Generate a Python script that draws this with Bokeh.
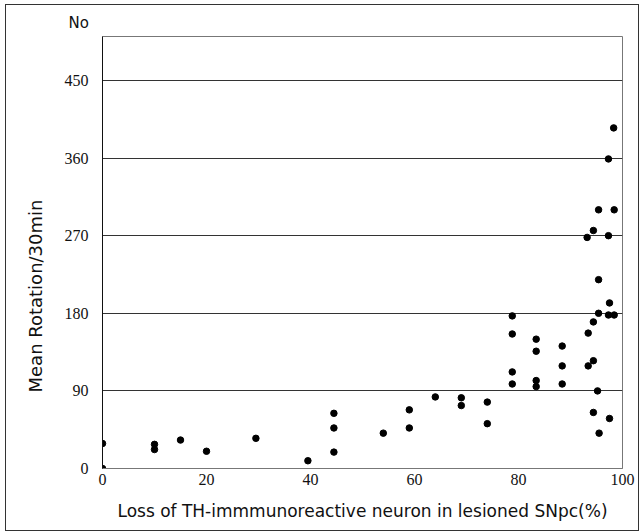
from bokeh.plotting import figure
from bokeh.models import Range1d, FixedTicker, Title
from bokeh.embed import file_html
from bokeh.resources import INLINE

# Data
loss_pct = [0, 0, 10, 10, 15, 20, 29.5, 39.5, 44.5, 44.5, 44.5, 54, 59, 59, 64,
            69, 69, 74, 74, 78.8, 78.8, 78.8, 78.8, 83.4, 83.4, 83.4, 83.4,
            88.4, 88.4, 88.4, 93.2, 94.4, 95.4, 98.4, 97.3, 98.3, 97.3, 95.4,
            97.5, 95.4, 97.3, 98.4, 94.4, 93.4, 93.4, 94.4, 95.2, 94.4, 95.5, 97.5]
rotation = [29, 0, 28, 22, 33, 20, 35, 9, 64, 47, 19, 41, 68, 47, 83,
            82, 73, 77, 52, 177, 156, 112, 98, 150, 136, 102, 95,
            142, 119, 98, 268, 276, 300, 300, 270, 395, 359, 219,
            192, 180, 178, 178, 170, 157, 119, 125, 90, 65, 41, 58]
x_ticks = [0, 20, 40, 60, 80, 100]
y_ticks = [0, 90, 180, 270, 360, 450]
x_label = "Loss of TH-immmunoreactive neuron in lesioned SNpc(%)"
y_label = "Mean Rotation/30min"
top_label = "No"

p = figure(width=634, height=527, output_backend="svg", toolbar_location=None,
           x_range=Range1d(0, 100), y_range=Range1d(0, 501),
           min_border_left=96, min_border_right=18, min_border_top=31,
           min_border_bottom=64)
p.styles = {"border": "1px solid #333", "margin": "4px 0 0 5px"}

p.outline_line_color = "#777"
p.outline_line_width = 1
p.background_fill_color = "white"
p.border_fill_color = "white"

p.xgrid.grid_line_color = None
p.ygrid.grid_line_color = "#333"
p.ygrid.grid_line_width = 1
p.ygrid.ticker = FixedTicker(ticks=[90, 180, 270, 360, 450])

p.xaxis.ticker = FixedTicker(ticks=x_ticks)
p.yaxis.ticker = FixedTicker(ticks=y_ticks)
for ax in (p.xaxis, p.yaxis):
    ax.major_label_text_font = "Liberation Serif"
    ax.major_label_text_font_size = "16px"
    ax.major_label_text_color = "#111"
    ax.major_tick_out = 0
    ax.major_tick_in = 0
    ax.minor_tick_out = 0
    ax.minor_tick_in = 0
p.xaxis.axis_line_color = "#777"
p.yaxis.axis_line_color = "#111"
p.xaxis.major_label_standoff = 5
p.yaxis.major_label_standoff = 14

p.xaxis.axis_label = x_label
p.xaxis.axis_label_text_font = "DejaVu Sans"
p.xaxis.axis_label_text_font_style = "normal"
p.xaxis.axis_label_text_font_size = "17px"
p.xaxis.axis_label_text_color = "#111"
p.xaxis.axis_label_standoff = 13

p.scatter(loss_pct, rotation, size=6.5, color="black")

p.add_layout(Title(text=y_label, align="left", offset=76, standoff=31,
                   text_font="DejaVu Sans", text_font_size="18px",
                   text_font_style="normal", text_color="#111"), "left")
p.add_layout(Title(text=top_label, align="left", offset=-34, standoff=10,
                   text_font="DejaVu Sans", text_font_size="15px",
                   text_font_style="normal", text_color="#111"), "above")

open("out.html", "w").write(file_html(p, INLINE))
